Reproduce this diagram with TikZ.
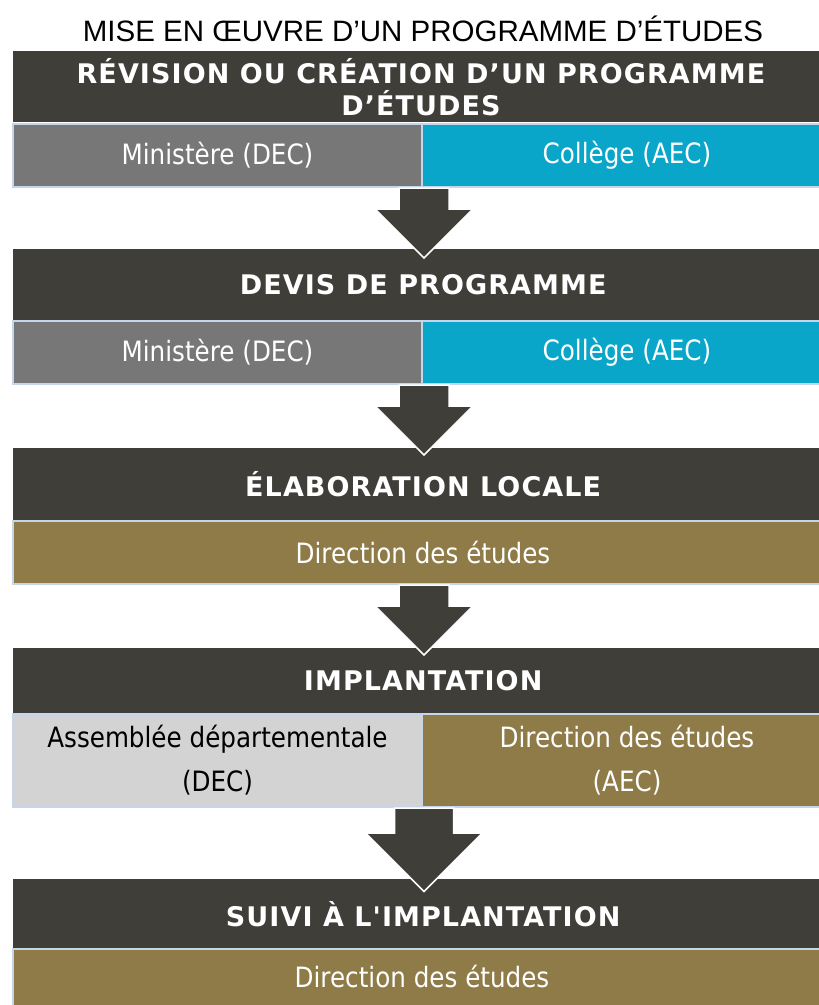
\documentclass[tikz,border=0pt]{standalone}
\usepackage{fontspec}
\setmainfont{Liberation Sans}
\newfontfamily\headfont{DejaVu Sans}[LetterSpace=4]
\newfontfamily\cellfont{DejaVu Sans}[FakeStretch=0.88]
\definecolor{darkbar}{HTML}{403E38}
\definecolor{greycell}{HTML}{777777}
\definecolor{cyancell}{HTML}{0AA6C9}
\definecolor{browncell}{HTML}{8E7B47}
\definecolor{lightcell}{HTML}{D3D3D3}
\definecolor{cellrule}{HTML}{C5D5EA}
\tikzset{
	headbar/.style={
		anchor=north west,
		fill=darkbar,
		draw=none,
		text=white,
		minimum width=820pt,
		font=\headfont\bfseries\fontsize{27}{32}\selectfont,
		align=center
	},
	cell/.style={
		anchor=north west,
		draw=cellrule,
		line width=2pt,
		text=white,
		font=\cellfont\fontsize{28}{44}\selectfont,
		align=center
	},
	blockarrow/.style={
		fill=darkbar,
		draw=white,
		line width=1.5pt
	},
}
% block arrow: start, shaft half width, head half width, shaft length
\newcommand{\flowarrow}[4]{%
	\draw[blockarrow] (#1) ++(-#2,0) -- ++(0,#4) -- ++({-(#3-#2)},0)
		-- ++(#3,#3) -- ++(#3,-#3) -- ++({-(#3-#2)},0) -- ++(0,-#4) -- cycle;
}

\begin{document}
\begin{tikzpicture}[x=1pt,y=-1pt]
\useasboundingbox (0,0) rectangle (819,1005);

\node[font=\fontsize{29.5}{34}\selectfont] (title) at (423,29) {MISE EN ŒUVRE D’UN PROGRAMME D’ÉTUDES};

% revision
\node[headbar, minimum height=71pt] (revision) at (13,51) {};
\node[text=white, font=\headfont\bfseries\fontsize{27}{32}\selectfont, align=center] at (421,87) {RÉVISION OU CRÉATION D’UN PROGRAMME\\D’ÉTUDES};
\node[cell, fill=greycell, minimum width=409pt, minimum height=63pt] (minA) at (12,123) {Ministère (DEC)};
\node[cell, fill=cyancell, minimum width=410pt, minimum height=63pt] (colA) at (421,123) {Collège (AEC)};

% devis
\node[headbar, minimum height=71pt] (devis) at (13,249) {DEVIS DE PROGRAMME};
\node[cell, fill=greycell, minimum width=409pt, minimum height=63pt] (minB) at (12,320) {Ministère (DEC)};
\node[cell, fill=cyancell, minimum width=410pt, minimum height=63pt] (colB) at (421,320) {Collège (AEC)};

% elaboration
\node[headbar, minimum height=72pt] (elab) at (13,448) {ÉLABORATION LOCALE};
\node[cell, fill=browncell, minimum width=820pt, minimum height=63pt] (dirC) at (12,520) {Direction des études};

% implantation
\node[headbar, minimum height=65pt] (impl) at (13,648) {IMPLANTATION};
\node[cell, fill=lightcell, text=black, minimum width=409pt, minimum height=93pt] (assD) at (12,713) {Assemblée départementale\\(DEC)};
\node[cell, fill=browncell, minimum width=410pt, minimum height=93pt] (dirD) at (421,713) {Direction des études\\(AEC)};

% suivi
\node[headbar, minimum height=69pt] (suivi) at (13,879) {SUIVI À L'IMPLANTATION};
\node[cell, fill=browncell, minimum width=820pt, minimum height=70pt] (dirE) at (12,948) {};
\node[text=white, font=\cellfont\fontsize{28}{44}\selectfont] at (422,976) {Direction des études};

% arrows
\coordinate (a1) at ([xshift=1pt]minA.south east);
\coordinate (a2) at ([xshift=1pt]minB.south east);
\coordinate (a3) at (dirC.south -| a1);
\coordinate (a4) at ([xshift=1pt]assD.south east);
\flowarrow{a1}{25}{49}{21}
\flowarrow{a2}{25}{49}{21}
\flowarrow{a3}{25}{49}{21}
\flowarrow{a4}{29.5}{58.5}{25}
\end{tikzpicture}
\end{document}
